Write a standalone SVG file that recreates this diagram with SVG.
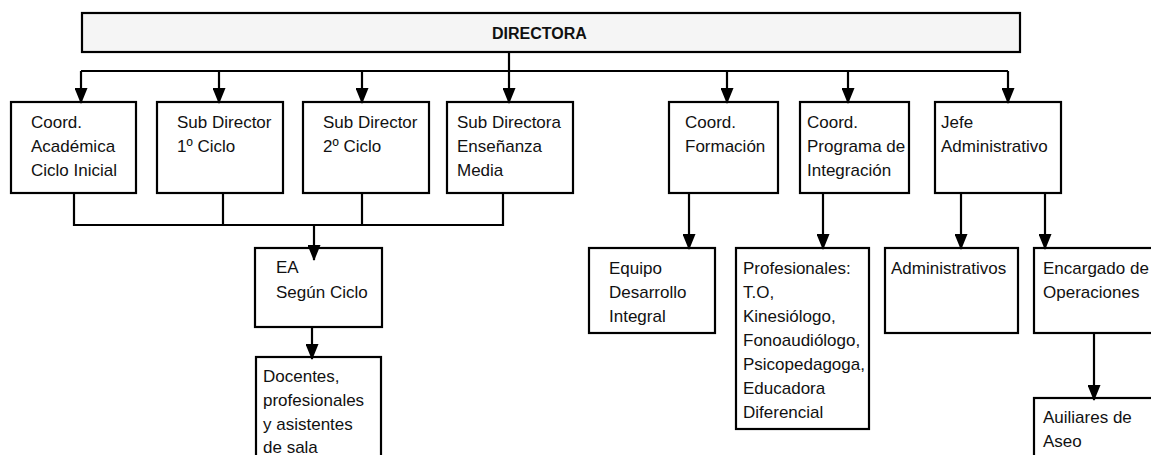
<svg xmlns="http://www.w3.org/2000/svg" width="1151" height="455" viewBox="0 0 1151 455">
<style>
.box{fill:#ffffff;stroke:#000;stroke-width:2.2}
.top{fill:#f5f5f5;stroke:#000;stroke-width:2.2}
.t{font-family:"Liberation Sans",Arial,sans-serif;font-size:17px;fill:#111}
.tb{font-family:"Liberation Sans",Arial,sans-serif;font-size:16px;font-weight:bold;fill:#111}
.c{fill:none;stroke:#000;stroke-width:2.2}
.a{fill:none;stroke:#000;stroke-width:2.2;marker-end:url(#ah)}
</style>
<defs>
<marker id="ah" markerUnits="userSpaceOnUse" viewBox="0 0 16 13" refX="15" refY="6.5" markerWidth="16" markerHeight="13" orient="auto">
<path d="M0,0 L16,6.5 L0,13 z" fill="#000"/>
</marker>
</defs>
<rect width="1151" height="455" fill="#fff"/>
<g id="directora">
<rect class="top" x="82" y="13" width="938" height="39"/>
<text class="tb" x="492" y="39">DIRECTORA</text>
</g>
<g id="coord-academica">
<rect class="box" x="11" y="102" width="125" height="91"/>
<text class="t" x="31" y="128">Coord.</text>
<text class="t" x="31" y="152">Académica</text>
<text class="t" x="31" y="176">Ciclo Inicial</text>
</g>
<g id="sub-director-1">
<rect class="box" x="157" y="102" width="126" height="91"/>
<text class="t" x="177" y="128">Sub Director</text>
<text class="t" x="177" y="152">1º Ciclo</text>
</g>
<g id="sub-director-2">
<rect class="box" x="303" y="102" width="126" height="91"/>
<text class="t" x="323" y="128">Sub Director</text>
<text class="t" x="323" y="152">2º Ciclo</text>
</g>
<g id="sub-directora-media">
<rect class="box" x="447" y="102" width="126" height="91"/>
<text class="t" x="457" y="128">Sub Directora</text>
<text class="t" x="457" y="152">Enseñanza</text>
<text class="t" x="457" y="176">Media</text>
</g>
<g id="coord-formacion">
<rect class="box" x="669" y="102" width="109" height="91"/>
<text class="t" x="685" y="128">Coord.</text>
<text class="t" x="685" y="152">Formación</text>
</g>
<g id="coord-programa">
<rect class="box" x="800" y="102" width="109" height="91"/>
<text class="t" x="807" y="128">Coord.</text>
<text class="t" x="807" y="152">Programa de</text>
<text class="t" x="807" y="176">Integración</text>
</g>
<g id="jefe-administrativo">
<rect class="box" x="935" y="102" width="126" height="91"/>
<text class="t" x="941" y="128">Jefe</text>
<text class="t" x="941" y="152">Administrativo</text>
</g>
<g id="ea-segun-ciclo">
<rect class="box" x="255" y="248" width="127" height="79"/>
<text class="t" x="276" y="273">EA</text>
<text class="t" x="276" y="298">Según Ciclo</text>
</g>
<g id="docentes">
<rect class="box" x="256" y="357" width="125" height="110"/>
<text class="t" x="263" y="382">Docentes,</text>
<text class="t" x="263" y="406">profesionales</text>
<text class="t" x="263" y="430">y asistentes</text>
<text class="t" x="263" y="453">de sala</text>
</g>
<g id="equipo-desarrollo">
<rect class="box" x="589" y="248" width="126" height="85"/>
<text class="t" x="609" y="274">Equipo</text>
<text class="t" x="609" y="298">Desarrollo</text>
<text class="t" x="609" y="322">Integral</text>
</g>
<g id="profesionales">
<rect class="box" x="736" y="248" width="133" height="181"/>
<text class="t" x="743" y="274">Profesionales:</text>
<text class="t" x="743" y="298">T.O,</text>
<text class="t" x="743" y="322">Kinesiólogo,</text>
<text class="t" x="743" y="346">Fonoaudiólogo,</text>
<text class="t" x="743" y="370">Psicopedagoga,</text>
<text class="t" x="743" y="394">Educadora</text>
<text class="t" x="743" y="418">Diferencial</text>
</g>
<g id="administrativos">
<rect class="box" x="885" y="248" width="133" height="85"/>
<text class="t" x="891" y="274">Administrativos</text>
</g>
<g id="encargado-operaciones">
<rect class="box" x="1034" y="248" width="130" height="85"/>
<text class="t" x="1043" y="274">Encargado de</text>
<text class="t" x="1043" y="298">Operaciones</text>
</g>
<g id="auxiliares-aseo">
<rect class="box" x="1034" y="398" width="130" height="70"/>
<text class="t" x="1043" y="423">Auiliares de</text>
<text class="t" x="1043" y="447">Aseo</text>
</g>
<g id="connectors">
<path class="c" d="M81,71 H1008"/>
<path class="a" d="M509,52 V103"/>
<path class="a" d="M81,71 V103"/>
<path class="a" d="M219,71 V103"/>
<path class="a" d="M362,71 V103"/>
<path class="a" d="M727,71 V103"/>
<path class="a" d="M848,71 V103"/>
<path class="a" d="M1008,71 V103"/>
<path class="c" d="M74,194 V225 H503 V194 M223,194 V225 M362,194 V225"/>
<path class="a" d="M314,225 V260"/>
<path class="a" d="M312,328 V359"/>
<path class="a" d="M689,194 V249"/>
<path class="a" d="M823,194 V249"/>
<path class="a" d="M961,194 V249"/>
<path class="a" d="M1045,194 V249"/>
<path class="a" d="M1094,334 V400"/>
</g>
</svg>
